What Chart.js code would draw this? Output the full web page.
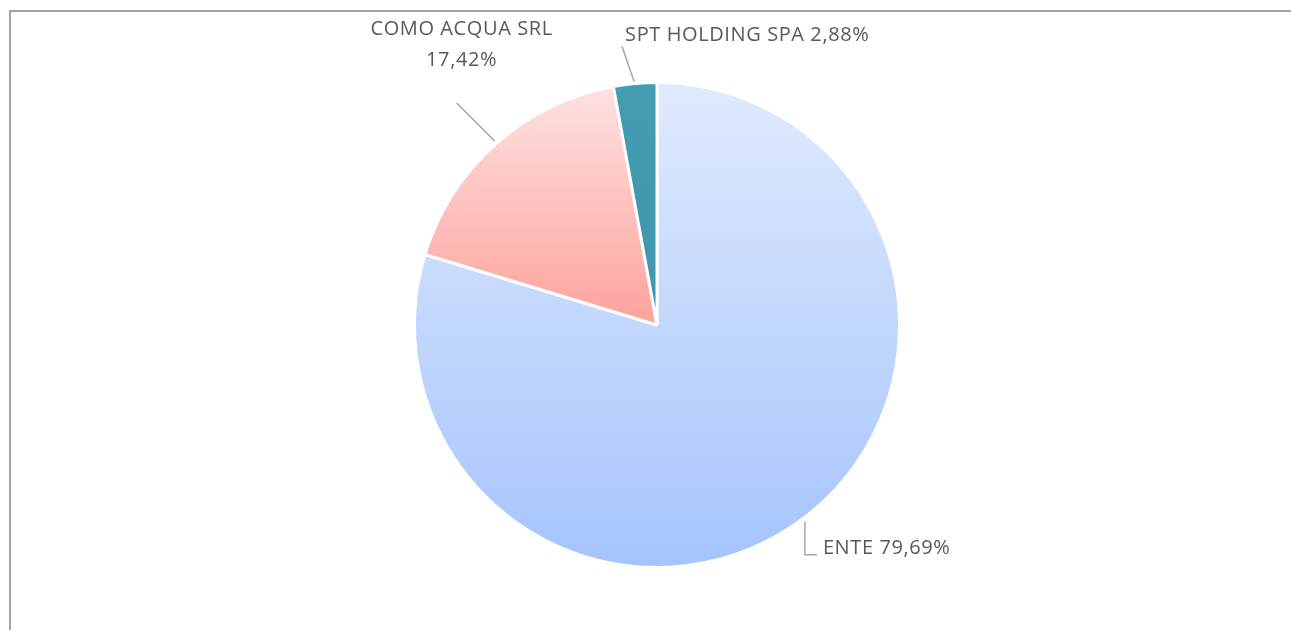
<!DOCTYPE html>
<html>
<head>
<meta charset="utf-8">
<script src="https://cdn.jsdelivr.net/npm/chart.js@4.4.1/dist/chart.umd.min.js"></script>
<style>
  html, body { margin: 0; padding: 0; background: #fff; overflow: hidden; }
  #frame {
    position: absolute; left: 9px; top: 10px; width: 1400px; height: 700px;
    border-left: 2px solid #a3a3a3; border-top: 2px solid #a3a3a3;
  }
  #wrap { position: absolute; left: 0; top: 0; width: 1291px; height: 630px; }
</style>
</head>
<body>
<div id="frame"></div>
<div id="wrap"><canvas id="pie" width="1291" height="630"></canvas></div>
<script>
const categories = ["ENTE", "COMO ACQUA SRL", "SPT HOLDING SPA"];
const shares = [79.69, 17.42, 2.88];
const topColors = ["#e0eafd", "#fde2e2", "#449cb2"];
const bottomColors = ["#a5c4fc", "#fda29c", "#3f96ad"];

const fmt = v => v.toFixed(2).replace(".", ",") + "%";

// label text lines + leader line / text offsets from the slice's outer midpoint
const labelLayout = [
    { lines: [categories[0] + " " + fmt(shares[0])], align: "left",
      path: [[3.5, 2], [3.5, 35], [15.5, 35]], text: [[21.5, 28]] },
    { lines: [categories[1], fmt(shares[1])], align: "center",
      path: [[-1, -3], [-39, -41]], text: [[-34, -115], [-34, -84]] },
    { lines: [categories[2] + " " + fmt(shares[2])], align: "left",
      path: [[-1, -2], [-13, -37]], text: [[-10, -48]] }
];

// vertical gradient over the bounding box of each slice
function sliceGradient(c) {
    const chart = c.chart;
    const area = chart.chartArea;
    const i = c.dataIndex;
    if (!area) return topColors[i];
    const cx = (area.left + area.right) / 2;
    const cy = (area.top + area.bottom) / 2;
    const r = Math.min(area.right - area.left, area.bottom - area.top) / 2;
    const total = shares.reduce((a, b) => a + b, 0);
    let a0 = -Math.PI / 2;
    for (let k = 0; k < i; k++) a0 += shares[k] / total * Math.PI * 2;
    const a1 = a0 + shares[i] / total * Math.PI * 2;
    const ys = [cy, cy + r * Math.sin(a0), cy + r * Math.sin(a1)];
    [Math.PI / 2, -Math.PI / 2, Math.PI * 1.5, Math.PI * 2.5].forEach(a => {
        if (a > a0 && a < a1) ys.push(cy + r * Math.sin(a));
    });
    const g = chart.ctx.createLinearGradient(0, Math.min(...ys), 0, Math.max(...ys));
    g.addColorStop(0, topColors[i]);
    g.addColorStop(1, bottomColors[i]);
    return g;
}

const leaderLabels = {
    id: "leaderLabels",
    afterDatasetsDraw(chart) {
        const ctx = chart.ctx;
        const meta = chart.getDatasetMeta(0);
        meta.data.forEach((arc, i) => {
            const p = arc.getProps(["x", "y", "startAngle", "endAngle", "outerRadius"], true);
            const mid = (p.startAngle + p.endAngle) / 2;
            const px = p.x + Math.cos(mid) * p.outerRadius;
            const py = p.y + Math.sin(mid) * p.outerRadius;
            const lay = labelLayout[i];

            ctx.save();
            ctx.strokeStyle = "#a6a6a6";
            ctx.lineWidth = 1.5;
            ctx.beginPath();
            lay.path.forEach(([dx, dy], k) => {
                if (k === 0) ctx.moveTo(px + dx, py + dy);
                else ctx.lineTo(px + dx, py + dy);
            });
            ctx.stroke();

            ctx.fillStyle = "#595959";
            ctx.font = "20px 'Open Sans'";
            ctx.letterSpacing = "0.6px";
            ctx.textBaseline = "middle";
            ctx.textAlign = lay.align;
            lay.lines.forEach((t, k) => {
                ctx.fillText(t, px + lay.text[k][0], py + lay.text[k][1]);
            });
            ctx.restore();
        });
    }
};

new Chart(document.getElementById("pie"), {
    type: "pie",
    data: {
        labels: categories,
        datasets: [{
            data: shares,
            backgroundColor: sliceGradient,
            borderColor: "#ffffff",
            borderWidth: 3
        }]
    },
    options: {
        responsive: false,
        animation: false,
        layout: { padding: { left: 413, right: 390, top: 81, bottom: 61 } },
        plugins: {
            legend: { display: false },
            tooltip: { enabled: false }
        }
    },
    plugins: [leaderLabels]
});
</script>
</body>
</html>
